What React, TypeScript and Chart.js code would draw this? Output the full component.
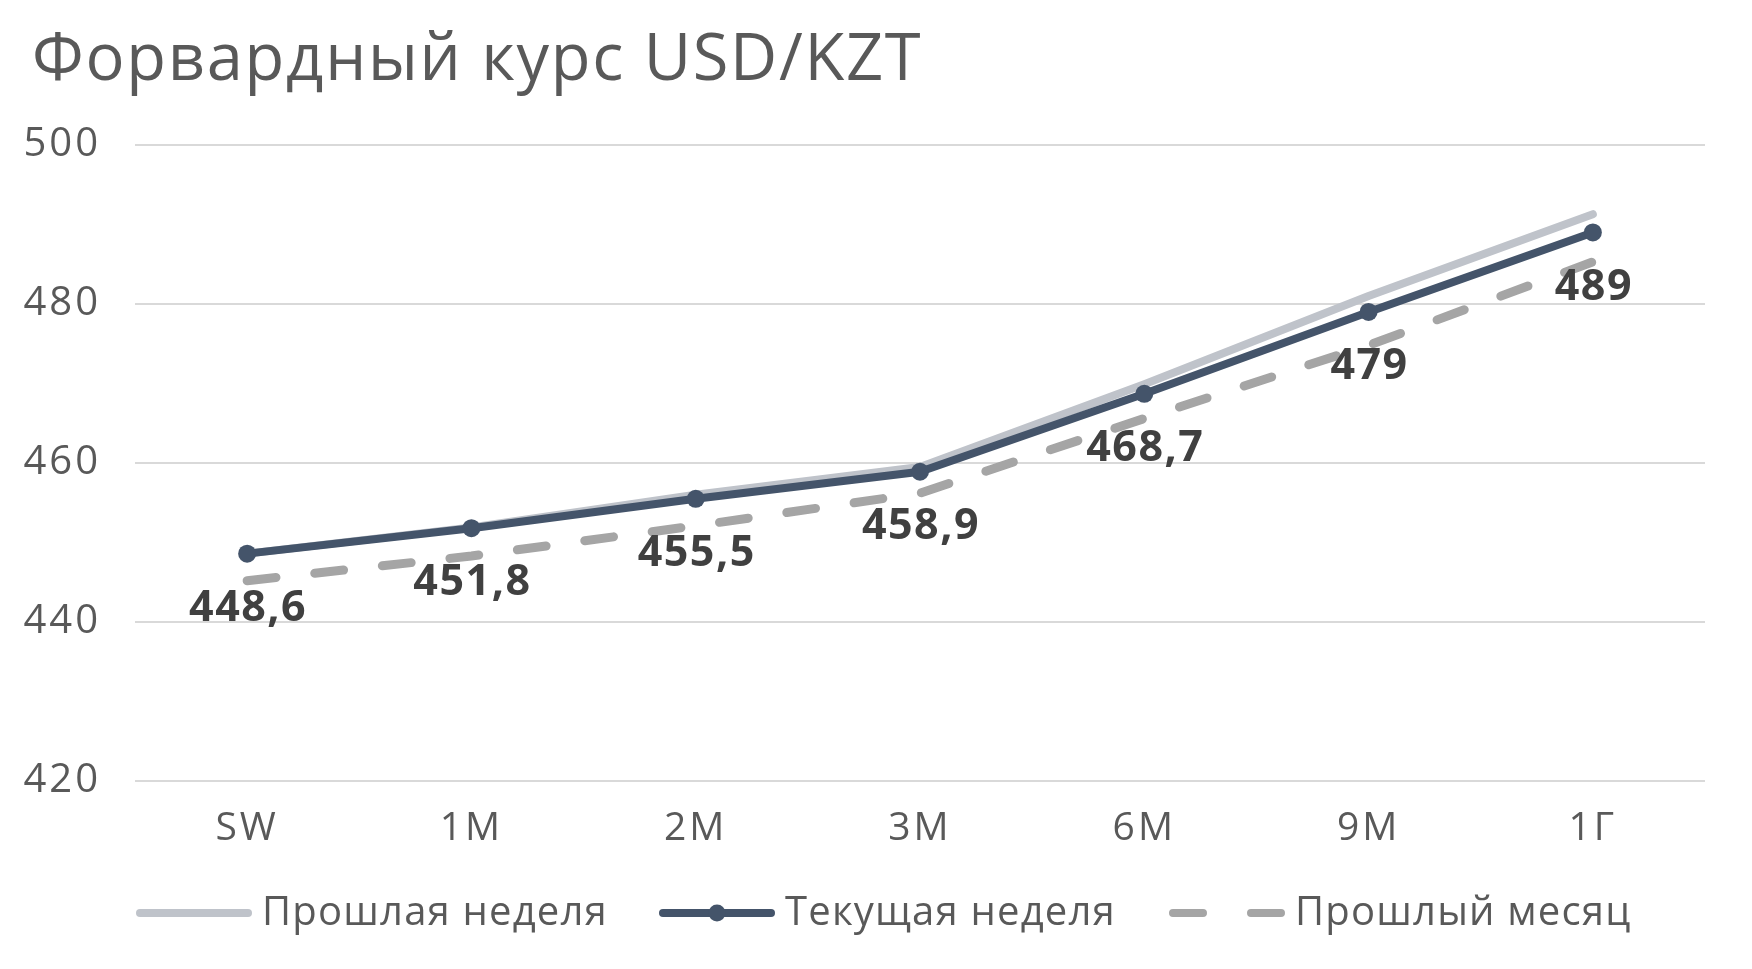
import React, { useEffect, useRef } from 'react';
import { Chart, registerables } from 'chart.js';

Chart.register(...registerables);

const TITLE = 'Форвардный курс USD/KZT';
const categories = ['SW', '1M', '2M', '3M', '6M', '9M', '1Г'];
const seriesNames = ['Прошлая неделя', 'Текущая неделя', 'Прошлый месяц'];
const lastWeek = [448.6, 451.9, 456.0, 459.5, 469.9, 481.0, 491.3];
const currentWeek = [448.6, 451.8, 455.5, 458.9, 468.7, 479, 489];
const lastMonth = [445.2, 448.3, 452.1, 456.2, 465.6, 474.8, 485.3];
const yMin = 420;
const yMax = 500;
const yStep = 20;

const FONT = '"Open Sans", "Noto Sans", sans-serif';
const TEXT = '#595959';
const LIGHT = '#BFC3CA';
const DARK = '#44546A';
const DASH = '#A5A5A5';

const overlayPlugin = {
  id: 'overlay',
  beforeDraw(chart: any) {
    // wider letter spacing for axis tick labels (closer to the original geometric font)
    chart.ctx.letterSpacing = '3px';
  },
  afterDatasetsDraw(chart: any) {
    const ctx = chart.ctx;
    const meta = chart.getDatasetMeta(1);
    ctx.save();
    ctx.letterSpacing = '1.5px';
    ctx.fillStyle = '#404040';
    ctx.font = `bold 43px ${FONT}`;
    ctx.textAlign = 'center';
    ctx.textBaseline = 'middle';
    meta.data.forEach((pt: any, i: number) => {
      const label = String(currentWeek[i]).replace('.', ',');
      ctx.fillText(label, pt.x + 1, pt.y + 55);
    });
    ctx.restore();
  },
  afterDraw(chart: any) {
    const ctx = chart.ctx;
    ctx.save();
    // title
    ctx.fillStyle = TEXT;
    ctx.letterSpacing = '1.7px';
    ctx.font = `400 65px ${FONT}`;
    ctx.textAlign = 'left';
    ctx.textBaseline = 'alphabetic';
    ctx.fillText(TITLE, 32, 80);

    // legend
    const ly = 913;
    ctx.letterSpacing = '1.2px';
    ctx.font = `400 40px ${FONT}`;
    ctx.textBaseline = 'middle';
    const items = [
      { x: 136, color: LIGHT, dash: [] as number[], marker: false },
      { x: 659, color: DARK, dash: [] as number[], marker: true },
      { x: 1169, color: DASH, dash: [30, 48], marker: false },
    ];
    items.forEach((it, i) => {
      ctx.beginPath();
      ctx.strokeStyle = it.color;
      ctx.lineWidth = 8;
      ctx.lineCap = 'round';
      ctx.setLineDash(it.dash);
      ctx.moveTo(it.x + 4, ly);
      ctx.lineTo(it.x + 112, ly);
      ctx.stroke();
      ctx.setLineDash([]);
      if (it.marker) {
        ctx.beginPath();
        ctx.fillStyle = it.color;
        ctx.arc(it.x + 58, ly, 8.5, 0, Math.PI * 2);
        ctx.fill();
      }
      ctx.fillStyle = TEXT;
      ctx.fillText(seriesNames[i], it.x + 126, ly + 1);
    });
    ctx.restore();
  },
};

export default function App() {
  const ref = useRef<HTMLCanvasElement | null>(null);

  useEffect(() => {
    document.body.style.margin = '0';
    const canvas = ref.current;
    if (!canvas) return;
    const chart = new Chart(canvas, {
      type: 'line',
      data: {
        labels: categories,
        datasets: [
          {
            label: seriesNames[0],
            data: lastWeek,
            borderColor: LIGHT,
            backgroundColor: LIGHT,
            borderWidth: 8,
            pointRadius: 0,
            order: 2,
            borderCapStyle: 'round',
            borderJoinStyle: 'round',
          },
          {
            label: seriesNames[1],
            data: currentWeek,
            borderColor: DARK,
            backgroundColor: DARK,
            borderWidth: 8,
            pointRadius: 9,
            pointBorderWidth: 0,
            pointBackgroundColor: DARK,
            order: 0,
            borderJoinStyle: 'round',
          },
          {
            label: seriesNames[2],
            data: lastMonth,
            borderColor: DASH,
            backgroundColor: DASH,
            borderWidth: 9,
            borderDash: [29, 39],
            borderCapStyle: 'round',
            pointRadius: 0,
            order: 1,
          },
        ],
      },
      options: {
        responsive: false,
        animation: false,
        devicePixelRatio: 1,
        layout: { padding: { top: 145, right: 47, bottom: 0, left: 0 } },
        plugins: {
          legend: { display: false },
          title: { display: false },
          tooltip: { enabled: false },
        },
        scales: {
          x: {
            offset: true,
            grid: { display: false, drawTicks: false },
            border: { display: false },
            ticks: {
              color: TEXT,
              font: { family: FONT, size: 39 },
              padding: 24,
            },
            afterFit: (scale: any) => {
              scale.height = 188;
            },
          },
          y: {
            min: yMin,
            max: yMax,
            grid: { color: '#D9D9D9', lineWidth: 2, drawTicks: false },
            border: { display: false },
            ticks: {
              stepSize: yStep,
              color: TEXT,
              font: { family: FONT, size: 40 },
              padding: 34,
            },
            afterFit: (scale: any) => {
              scale.width = 135;
            },
          },
        },
      },
      plugins: [overlayPlugin],
    });
    return () => chart.destroy();
  }, []);

  return (
    <canvas
      ref={ref}
      width={1752}
      height={969}
      style={{ display: 'block', width: 1752, height: 969 }}
    />
  );
}
